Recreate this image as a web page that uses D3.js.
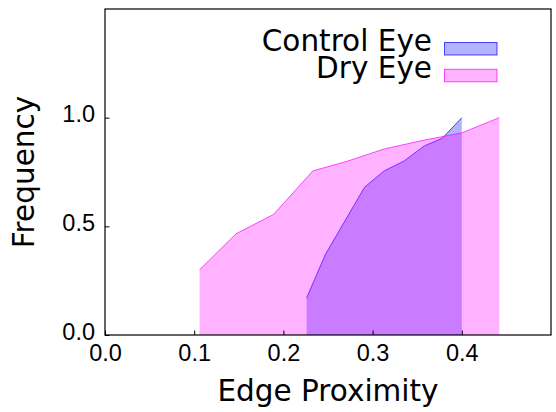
<!DOCTYPE html>
<html>
<head>
<meta charset="utf-8">
<script src="https://cdn.jsdelivr.net/npm/d3@7"></script>
<style>
  body { margin: 0; background: #fff; }
  svg { display: block; font-family: "DejaVu Sans", sans-serif; }
</style>
</head>
<body>
<div id="chart"></div>
<script>
// ── data ──
const controlX = [0.226, 0.247, 0.291, 0.313, 0.335, 0.358, 0.378, 0.400];
const controlY = [0.17, 0.37, 0.68, 0.755, 0.80, 0.87, 0.905, 1.0];
const dryX = [0.106, 0.147, 0.189, 0.233, 0.272, 0.313, 0.358, 0.400, 0.442];
const dryY = [0.30, 0.466, 0.555, 0.755, 0.80, 0.856, 0.897, 0.93, 1.0];
const xTicks = [0.0, 0.1, 0.2, 0.3, 0.4];
const yTicks = [0.0, 0.5, 1.0];
const seriesNames = ["Control Eye", "Dry Eye"];

const width = 556, height = 412;
const margin = { top: 9, right: 5, bottom: 77, left: 105 };
const plotW = width - margin.left - margin.right;
const plotH = height - margin.top - margin.bottom;

const series = [
  { name: seriesNames[0], xs: controlX, ys: controlY, color: "#0000ff" },
  { name: seriesNames[1], xs: dryX, ys: dryY, color: "#ff00ff" }
];

const x = d3.scaleLinear().domain([0, 0.5]).range([0, plotW]);
const y = d3.scaleLinear().domain([0, 1.5]).range([plotH, 0]);

const svg = d3.select("#chart").append("svg")
  .attr("width", width)
  .attr("height", height);

const g = svg.append("g")
  .attr("transform", `translate(${margin.left},${margin.top})`);

const area = d3.area()
  .x(d => x(d[0]))
  .y0(y(0))
  .y1(d => y(d[1]));

const line = d3.line()
  .x(d => x(d[0]))
  .y(d => y(d[1]));

series.forEach(s => {
  const pts = s.xs.map((v, i) => [v, s.ys[i]]);
  g.append("path")
    .datum(pts)
    .attr("d", area)
    .attr("fill", s.color)
    .attr("fill-opacity", 0.3);
  g.append("path")
    .datum(pts)
    .attr("d", line)
    .attr("fill", "none")
    .attr("stroke", s.color)
    .attr("stroke-opacity", 0.7)
    .attr("stroke-width", 1);
});

// axes (ticks pointing inward, like matplotlib classic)
const xAxis = g.append("g")
  .attr("transform", `translate(0,${plotH})`)
  .call(d3.axisBottom(x).tickValues(xTicks).tickFormat(d3.format(".1f"))
    .tickSizeInner(-4.5).tickSizeOuter(0).tickPadding(0));
xAxis.select(".domain").remove();
xAxis.selectAll("line").attr("stroke", "#000");
xAxis.selectAll("text")
  .attr("y", 26)
  .attr("dy", null)
  .attr("font-size", 23.5)
  .attr("fill", "#000");

const yAxis = g.append("g")
  .call(d3.axisLeft(y).tickValues(yTicks).tickFormat(d3.format(".1f"))
    .tickSizeInner(-4.5).tickSizeOuter(0).tickPadding(0));
yAxis.select(".domain").remove();
yAxis.selectAll("line").attr("stroke", "#000");
yAxis.selectAll("text")
  .attr("x", -10)
  .attr("dy", null)
  .attr("y", 4)
  .attr("font-size", 23.5)
  .attr("fill", "#000");

// frame
g.append("rect")
  .attr("width", plotW)
  .attr("height", plotH)
  .attr("fill", "none")
  .attr("stroke", "#000")
  .attr("stroke-width", 1.2);

// labels
svg.append("text")
  .attr("x", margin.left + plotW / 2)
  .attr("y", 401)
  .attr("text-anchor", "middle")
  .attr("font-size", 29.5)
  .text("Edge Proximity");

svg.append("text")
  .attr("transform", `translate(34,${margin.top + plotH / 2}) rotate(-90)`)
  .attr("text-anchor", "middle")
  .attr("font-size", 29.5)
  .text("Frequency");

// legend
const legend = svg.append("g");
series.forEach((s, i) => {
  const row = legend.append("g").attr("transform", `translate(0,${i * 26.8})`);
  row.append("text")
    .attr("x", 432)
    .attr("y", 51)
    .attr("text-anchor", "end")
    .attr("font-size", 29.5)
    .text(s.name);
  row.append("rect")
    .attr("x", 444.5)
    .attr("y", 42.5)
    .attr("width", 52.5)
    .attr("height", 12.5)
    .attr("fill", d3.interpolateRgb("#fff", s.color)(0.3))
    .attr("stroke", s.color)
    .attr("stroke-opacity", 0.7)
    .attr("stroke-width", 1);
});
</script>
</body>
</html>
